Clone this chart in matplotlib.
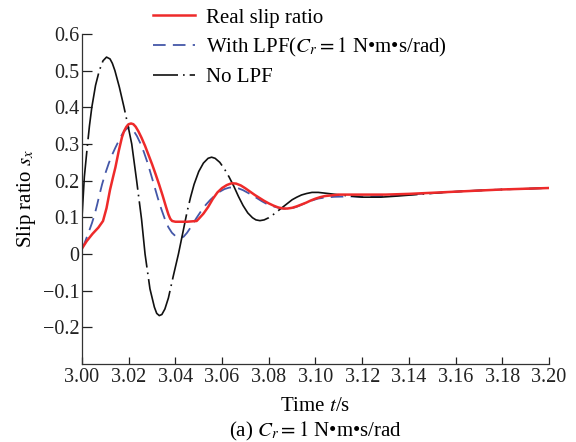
import matplotlib
matplotlib.use("Agg")
import matplotlib.pyplot as plt
from matplotlib.lines import Line2D

plt.rcParams["font.family"] = ["Liberation Serif", "DejaVu Serif"]
plt.rcParams["mathtext.fontset"] = "stix"

# Real slip ratio
t_real = [3.000, 3.002, 3.0045, 3.007, 3.009, 3.0105, 3.012, 3.0133, 3.0143, 3.0157,
          3.0171, 3.018, 3.019, 3.020, 3.021, 3.022, 3.023, 3.0242, 3.0255, 3.027,
          3.0285, 3.030, 3.0315, 3.033, 3.0345, 3.036, 3.037, 3.0378, 3.0386, 3.040,
          3.045, 3.0491, 3.050, 3.052, 3.054, 3.056, 3.058, 3.060, 3.062, 3.0641,
          3.066, 3.068, 3.070, 3.072, 3.074, 3.076, 3.078, 3.080, 3.082, 3.084,
          3.0862, 3.088, 3.090, 3.092, 3.094, 3.096, 3.098, 3.100, 3.102, 3.104,
          3.107, 3.110, 3.120, 3.130, 3.140, 3.150, 3.160, 3.170, 3.180, 3.190, 3.200]
s_real = [0.015, 0.035, 0.055, 0.072, 0.090, 0.125, 0.175, 0.210, 0.236, 0.280,
          0.318, 0.335, 0.347, 0.354, 0.356, 0.354, 0.347, 0.334, 0.317, 0.295,
          0.270, 0.245, 0.218, 0.190, 0.160, 0.128, 0.108, 0.096, 0.090, 0.088,
          0.088, 0.090, 0.096, 0.110, 0.128, 0.150, 0.168, 0.180, 0.188, 0.193,
          0.192, 0.187, 0.179, 0.170, 0.161, 0.153, 0.145, 0.138, 0.132, 0.127,
          0.124, 0.124, 0.126, 0.130, 0.135, 0.140, 0.146, 0.151, 0.155, 0.158,
          0.160, 0.162, 0.162, 0.162, 0.164, 0.167, 0.170, 0.173, 0.176, 0.178, 0.180]

# Estimate with low-pass filter
t_lpf = [3.000, 3.001, 3.002, 3.003, 3.0043, 3.0055, 3.0065, 3.0075, 3.0086, 3.010,
         3.0115, 3.013, 3.0143, 3.016, 3.0175, 3.019, 3.020, 3.021, 3.022, 3.0235,
         3.025, 3.0265, 3.028, 3.0295, 3.031, 3.0325, 3.034, 3.0355, 3.037, 3.0385,
         3.040, 3.042, 3.0435, 3.045, 3.047, 3.049, 3.051, 3.053, 3.055, 3.057,
         3.059, 3.061, 3.063, 3.065, 3.067, 3.069, 3.071, 3.073, 3.075, 3.077,
         3.079, 3.081, 3.083, 3.085, 3.0877, 3.090, 3.092, 3.095, 3.098, 3.101,
         3.104, 3.108, 3.115, 3.120, 3.130, 3.140, 3.160, 3.180, 3.200]
s_lpf = [0.015, 0.028, 0.045, 0.062, 0.085, 0.110, 0.135, 0.162, 0.190, 0.220,
         0.248, 0.272, 0.290, 0.312, 0.330, 0.341, 0.345, 0.344, 0.337, 0.322,
         0.302, 0.278, 0.250, 0.218, 0.185, 0.152, 0.122, 0.095, 0.073, 0.058,
         0.049, 0.044, 0.047, 0.058, 0.077, 0.098, 0.117, 0.134, 0.148, 0.160,
         0.170, 0.177, 0.181, 0.182, 0.179, 0.174, 0.167, 0.160, 0.152, 0.144,
         0.137, 0.132, 0.128, 0.125, 0.123, 0.125, 0.129, 0.137, 0.145, 0.151,
         0.154, 0.156, 0.157, 0.156, 0.158, 0.162, 0.170, 0.176, 0.180]

# Estimate without filter
t_raw = [3.000, 3.001, 3.0023, 3.0032, 3.0042, 3.0058, 3.0074, 3.009, 3.0105, 3.012,
         3.013, 3.0141, 3.016, 3.018, 3.0197, 3.0213, 3.0234, 3.0255, 3.027, 3.0291,
         3.031, 3.032, 3.0331, 3.0342, 3.0355, 3.037, 3.0391, 3.0413, 3.0434, 3.045,
         3.0465, 3.048, 3.050, 3.052, 3.054, 3.0555, 3.057, 3.059, 3.061, 3.063,
         3.065, 3.067, 3.069, 3.071, 3.073, 3.0745, 3.0762, 3.078, 3.080, 3.082,
         3.084, 3.086, 3.088, 3.090, 3.092, 3.094, 3.0962, 3.0985, 3.1012, 3.104,
         3.108, 3.112, 3.120, 3.128, 3.135, 3.145, 3.155, 3.165, 3.180, 3.200]
s_raw = [0.100, 0.210, 0.295, 0.350, 0.400, 0.460, 0.500, 0.527, 0.537, 0.532,
         0.520, 0.500, 0.455, 0.400, 0.350, 0.300, 0.200, 0.095, 0.000, -0.095,
         -0.145, -0.162, -0.168, -0.165, -0.150, -0.120, -0.060, 0.000, 0.065, 0.115,
         0.155, 0.190, 0.225, 0.248, 0.261, 0.264, 0.261, 0.250, 0.232, 0.210,
         0.185, 0.157, 0.132, 0.112, 0.099, 0.093, 0.091, 0.093, 0.099, 0.108,
         0.118, 0.128, 0.138, 0.148, 0.155, 0.161, 0.165, 0.168, 0.168, 0.166,
         0.163, 0.160, 0.155, 0.155, 0.158, 0.163, 0.168, 0.172, 0.176, 0.180]

x_ticks = [3.00, 3.02, 3.04, 3.06, 3.08, 3.10, 3.12, 3.14, 3.16, 3.18, 3.20]
y_ticks = [-0.2, -0.1, 0, 0.1, 0.2, 0.3, 0.4, 0.5, 0.6]
y_tick_labels = ["\u22120.2", "\u22120.1", "0", "0.1", "0.2", "0.3", "0.4", "0.5", "0.6"]

labels = ["Real slip ratio",
          "With LPF($C_r = 1$ N\u2022m\u2022s/rad)",
          "No LPF"]

RED = "#ee2a2a"
BLUE = "#4457a8"
BLACK = "#111111"

fig = plt.figure(figsize=(5.76, 4.42), dpi=100)
ax = fig.add_axes([82 / 576, 78 / 442, 467 / 576, 330 / 442])

ax.plot(t_lpf, s_lpf, color=BLUE, lw=1.3, linestyle=(0, (7, 4)))
ax.plot(t_raw, s_raw, color=BLACK, lw=1.2, linestyle=(0, (40, 3, 1, 3)))
ax.plot(t_real, s_real, color=RED, lw=1.8)

ax.set_xlim(3.00, 3.20)
ax.set_ylim(-0.3, 0.6)
ax.set_xticks(x_ticks)
ax.set_xticklabels([f"{v:.2f}" for v in x_ticks])
ax.set_yticks(y_ticks)
ax.set_yticklabels(y_tick_labels)
ax.tick_params(direction="in", width=0.9, labelsize=14.5, colors="#222222")
ax.tick_params(axis="x", length=5, pad=3)
ax.tick_params(axis="y", length=7, pad=2)
ax.spines["top"].set_visible(False)
ax.spines["right"].set_visible(False)
for s in ("left", "bottom"):
    ax.spines[s].set_linewidth(0.9)
    ax.spines[s].set_color("#333333")

ax.set_xlabel("Time $t$/s", fontsize=15, labelpad=7)
ax.set_ylabel("Slip ratio $s_x$", fontsize=15, labelpad=3)

handles = [Line2D([], [], color=RED, lw=1.8),
           Line2D([], [], color=BLUE, lw=1.3, linestyle=(0, (7, 4))),
           Line2D([], [], color=BLACK, lw=1.2, linestyle=(0, (15, 3, 1, 3)))]
fig.legend(handles, labels, loc="upper left", bbox_to_anchor=(153 / 576, 1 - 8 / 442),
           frameon=False, fontsize=15, handlelength=2.0, handletextpad=0.55,
           labelspacing=0.4, borderpad=0, borderaxespad=0)

fig.text(316 / 576, 11 / 442, "(a) $C_r = 1$ N\u2022m\u2022s/rad", ha="center",
         va="center", fontsize=15)

fig.savefig("out.png", dpi=100)
